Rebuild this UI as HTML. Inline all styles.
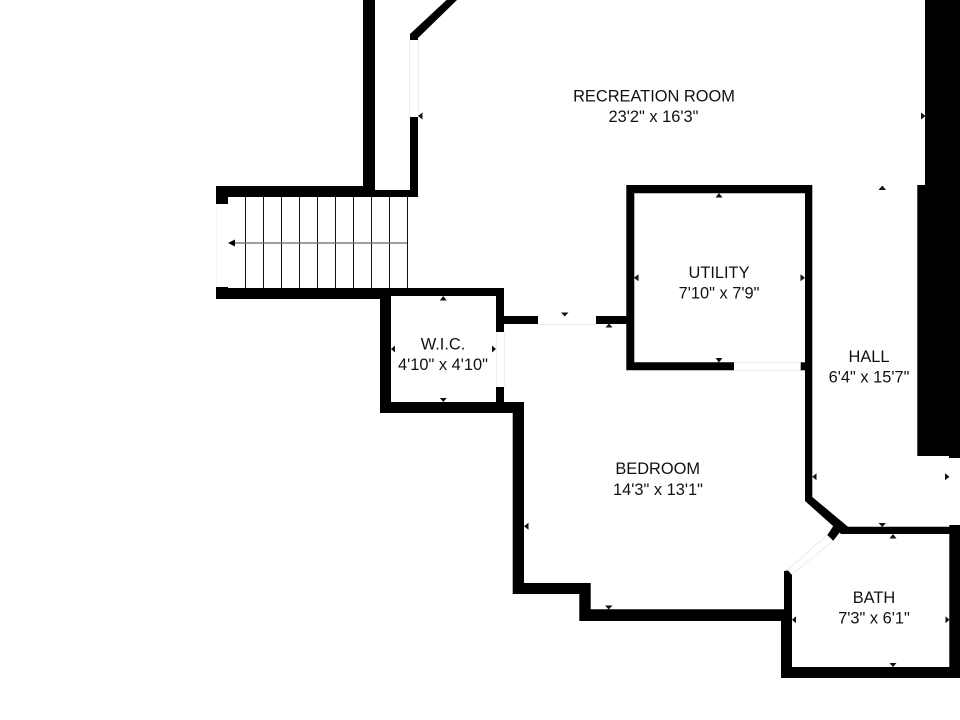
<!DOCTYPE html>
<html>
<head>
<meta charset="utf-8">
<style>
html,body{margin:0;padding:0;background:#fff;width:960px;height:720px;overflow:hidden}
svg{display:block}
text{font-family:"Liberation Sans",Arial,sans-serif;font-size:16.4px;fill:#111;text-anchor:middle}
</style>
</head>
<body>
<svg width="960" height="720" viewBox="0 0 960 720" xmlns="http://www.w3.org/2000/svg">
<rect width="960" height="720" fill="#fff"/>

<!-- door jamb lines -->
<g fill="none" stroke="#ececec" stroke-width="1">
<path d="M409.5 40V117M418.5 40V117"/>
<path d="M496.5 332V387M504.5 332V387"/>
<path d="M538 324.5H596"/>
<path d="M734 362.5H801M734 370.5H801"/>
<path d="M827 535L786 571.5M833 541L791 575"/>
</g>
<path d="M216.5 204V287" fill="none" stroke="#f6f6f6" stroke-width="1"/>

<!-- stairs -->
<g stroke="#111" stroke-width="1" fill="none">
<path d="M245.5 197V288M263.5 197V288M281.5 197V288M299.5 197V288M317.5 197V288M335.5 197V288M353.5 197V288M371.5 197V288M389.5 197V288M407.5 197V288"/>
</g>
<path d="M235 243H407" stroke="#666" stroke-width="1.2" fill="none"/>
<path d="M228 243L235 239.5V246.5Z" fill="#000"/>

<!-- walls -->
<g fill="#000">
<path d="M363 0H375V190H410V117H418V197H228V204H216V186H363Z"/>
<path d="M410 34L446.5 0H457L418 38V40H410Z"/>
<path d="M216 287H228V288H504V332H496V296H391V402H496V387H504V402H524V583H590.7V609.3H784V571L788 570.5L792 575V667H949.3V534H841L833 526L805 501V193.3H634.3V362.3H734V370.3H626.3V316H626.3V185H812.3V497L848 526.7H949.3V525H960V678H781V621H579.3V594H512.7V413H380V299H216Z" fill-rule="evenodd"/>
<rect x="504" y="316" width="34" height="8"/>
<rect x="596" y="316" width="31" height="8"/>
<rect x="800.7" y="362.3" width="4.5" height="8"/>
<path d="M833.3 526L840 532L833.3 540.7L827.3 535Z"/>
<path d="M925 0H960V458H949V456H917.3V185H925Z"/>
</g>

<!-- dimension ticks -->
<g fill="#111">
<path d="M418 116L422.5 112.5V119.5Z"/>
<path d="M925.5 116L921 112.5V119.5Z"/>
<path d="M719 193L715.5 197.5H722.5Z"/>
<path d="M634 277.7L638.5 274.2V281.2Z"/>
<path d="M805 277.7L800.5 274.2V281.2Z"/>
<path d="M719 362.5L715.5 358H722.5Z"/>
<path d="M564.7 316.5L561 312.5H568.5Z"/>
<path d="M609 323.5L605.5 327.5H612.5Z"/>
<path d="M882.3 185.5L878.5 190H886Z"/>
<path d="M812.3 476.7L816.5 473.2V480.2Z"/>
<path d="M949.5 476.7L945 473.2V480.2Z"/>
<path d="M882.3 527L878.5 523H886Z"/>
<path d="M893 534L889.5 538.5H896.5Z"/>
<path d="M893 667L889.5 663H896.5Z"/>
<path d="M792 619.7L796 616.2V623.2Z"/>
<path d="M949.5 619.7L945.5 616.2V623.2Z"/>
<path d="M443.3 296L439.8 300.5H446.8Z"/>
<path d="M443.3 402L439.8 398H446.8Z"/>
<path d="M391 349L395 345.5V352.5Z"/>
<path d="M496 349L492 345.5V352.5Z"/>
<path d="M524 526.3L528.5 522.8V529.8Z"/>
<path d="M608.7 609.5L605 605.5H612.5Z"/>
</g>

<!-- labels -->
<text x="654" y="101.5">RECREATION ROOM</text>
<text x="653.5" y="122">23'2" x 16'3"</text>
<text x="719" y="278">UTILITY</text>
<text x="719" y="298.7">7'10" x 7'9"</text>
<text x="443" y="349.5">W.I.C.</text>
<text x="443" y="370">4'10" x 4'10"</text>
<text x="869" y="362">HALL</text>
<text x="869" y="382.5">6'4" x 15'7"</text>
<text x="657.7" y="474">BEDROOM</text>
<text x="658" y="495">14'3" x 13'1"</text>
<text x="874" y="603">BATH</text>
<text x="874" y="623.5">7'3" x 6'1"</text>
</svg>
</body>
</html>
